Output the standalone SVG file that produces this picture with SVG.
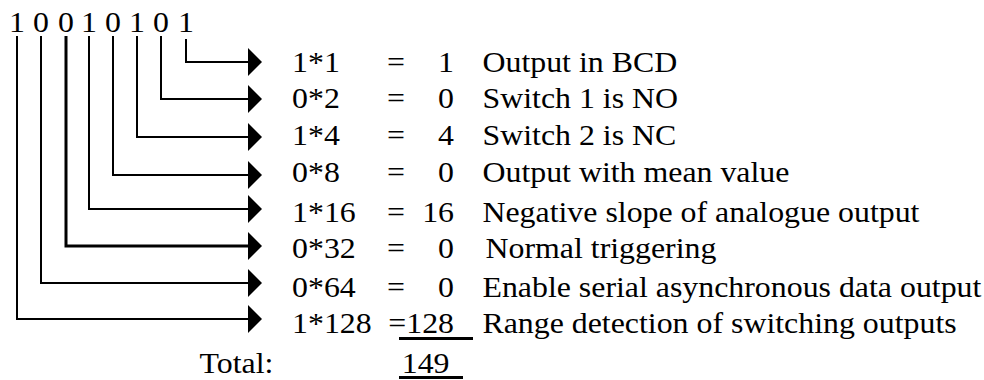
<svg xmlns="http://www.w3.org/2000/svg" width="984" height="380" viewBox="0 0 984 380">
<defs>
<style>
.t{font-family:'Liberation Serif','Times New Roman',Times,serif;font-size:30px;fill:#000}
.m{text-anchor:middle}
.e{text-anchor:end}
.c{fill:none;stroke:#000;stroke-width:2;stroke-linejoin:miter;stroke-linecap:butt}
</style>
<marker id="ah" viewBox="0 0 14 28" markerWidth="14" markerHeight="28" refX="1" refY="14" orient="auto" markerUnits="userSpaceOnUse">
<path d="M0,0 L14,14 L0,28 Z" fill="#000"/>
</marker>
</defs>
<rect width="984" height="380" fill="#fff"/>
<g id="connectors">
<path class="c" d="M186,39 V62 H249" marker-end="url(#ah)"/>
<path class="c" d="M161,36 V99 H249" marker-end="url(#ah)"/>
<path class="c" d="M137,36 V137 H249" marker-end="url(#ah)"/>
<path class="c" d="M113,36 V175 H249" marker-end="url(#ah)"/>
<path class="c" d="M89,36 V209 H249" marker-end="url(#ah)"/>
<path class="c" d="M66,36 V246 H249" marker-end="url(#ah)" style="stroke-width:3"/>
<path class="c" d="M41,36 V283 H249" marker-end="url(#ah)"/>
<path class="c" d="M17,36 V319 H249" marker-end="url(#ah)"/>
</g>
<g class="t" font-family="Liberation Serif, serif" font-size="30" transform="scale(1.062,1)">
<g id="bits">
<text class="m" x="16" y="32">1</text>
<text class="m" x="38.6" y="32">0</text>
<text class="m" x="62.1" y="32">0</text>
<text class="m" x="83.8" y="32">1</text>
<text class="m" x="106.4" y="32">0</text>
<text class="m" x="129" y="32">1</text>
<text class="m" x="151.6" y="32">0</text>
<text class="m" x="175.1" y="32">1</text>
</g>
<g id="row1"><text x="275" y="72">1*1</text><text class="m" x="372.9" y="72">=</text><text class="e" x="427.5" y="72">1</text><text x="454.3" y="72">Output in BCD</text></g>
<g id="row2"><text x="275" y="108">0*2</text><text class="m" x="372.9" y="108">=</text><text class="e" x="427.5" y="108">0</text><text x="454.3" y="108">Switch 1 is NO</text></g>
<g id="row3"><text x="275" y="145">1*4</text><text class="m" x="372.9" y="145">=</text><text class="e" x="427.5" y="145">4</text><text x="454.3" y="145">Switch 2 is NC</text></g>
<g id="row4"><text x="275" y="182">0*8</text><text class="m" x="372.9" y="182">=</text><text class="e" x="427.5" y="182">0</text><text x="454.3" y="182">Output with mean value</text></g>
<g id="row5"><text x="275" y="222">1*16</text><text class="m" x="372.9" y="222">=</text><text class="e" x="427.5" y="222">16</text><text x="454.3" y="222">Negative slope of analogue output</text></g>
<g id="row6"><text x="275" y="258">0*32</text><text class="m" x="372.9" y="258">=</text><text class="e" x="427.5" y="258">0</text><text x="457.2" y="258">Normal triggering</text></g>
<g id="row7"><text x="275" y="297">0*64</text><text class="m" x="372.9" y="297">=</text><text class="e" x="427.5" y="297">0</text><text x="454.3" y="297">Enable serial asynchronous data output</text></g>
<g id="row8"><text x="275" y="333">1*128</text><text class="e" x="427.5" y="333">=128</text><text x="454.3" y="333">Range detection of switching outputs</text></g>
<g id="total"><text x="187.9" y="373">Total:</text><text class="e" x="423.3" y="373">149</text></g>
</g>
<g id="underlines">
<rect x="399" y="337" width="74" height="3" fill="#000"/>
<rect x="399" y="376" width="64" height="3" fill="#000"/>
</g>
</svg>
